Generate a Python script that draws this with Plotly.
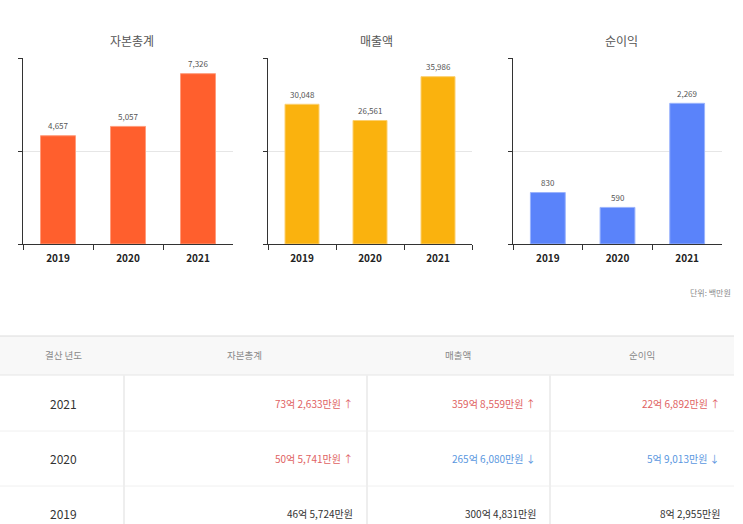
import plotly.graph_objects as go

W, H = 743, 524

# ---- data ----
years = ["2019", "2020", "2021"]
capital = [4657, 5057, 7326]
sales = [30048, 26561, 35986]
profit = [830, 590, 2269]
titles = ["자본총계", "매출액", "순이익"]
unit_label = "단위: 백만원"

table_header = ["결산 년도", "자본총계", "매출액", "순이익"]
table_years = ["2021", "2020", "2019"]
capital_txt = ["73억 2,633만원", "50억 5,741만원", "46억 5,724만원"]
sales_txt = ["359억 8,559만원", "265억 6,080만원", "300억 4,831만원"]
profit_txt = ["22억 6,892만원", "5억 9,013만원", "8억 2,955만원"]
capital_trend = ["up", "up", ""]
sales_trend = ["up", "down", ""]
profit_trend = ["up", "down", ""]

FONT = "Noto Sans CJK KR"
colors = ["#FF5F2D", "#FAB20E", "#5A83FA"]
edge = ["#FF9C7C", "#FCD070", "#9AB3FC"]
yranges = [8000, 40000, 3000]
xdom_px = [(23, 233), (268, 472), (513, 722)]
title_x_px = [132, 377, 621]


def px(x):
    return x / W


def py(y):
    return 1 - y / H


fig = go.Figure()
series = [capital, sales, profit]
annotations = []
shapes = []

for i, vals in enumerate(series):
    xa = "x" if i == 0 else f"x{i+1}"
    ya = "y" if i == 0 else f"y{i+1}"
    fig.add_trace(go.Bar(
        x=years, y=vals, xaxis=xa, yaxis=ya, width=0.5,
        marker=dict(color=colors[i], line=dict(color=edge[i], width=1)),
        hoverinfo="skip", showlegend=False,
    ))
    for j, v in enumerate(vals):
        annotations.append(dict(
            x=j, y=v, xref=xa, yref=ya, text=f"{v:,}", showarrow=False,
            yanchor="middle", yshift=10,
            font=dict(family=FONT, size=8, color="#555"),
        ))
    annotations.append(dict(
        x=px(title_x_px[i]), y=py(40), xref="paper", yref="paper",
        text=titles[i], showarrow=False, xanchor="center", yanchor="middle",
        font=dict(family=FONT, size=12, color="#555"),
    ))
    axkey = "xaxis" if i == 0 else f"xaxis{i+1}"
    aykey = "yaxis" if i == 0 else f"yaxis{i+1}"
    x0, x1 = xdom_px[i]
    fig.layout[axkey] = dict(
        domain=[px(x0), px(x1)], anchor=ya, type="category",
        range=[-0.5, 2.5], tickson="boundaries", ticks="outside",
        ticklen=5, tickcolor="#333", showline=True, linecolor="#333",
        linewidth=1, showgrid=False, fixedrange=True,
        ticklabelstandoff=5,
        tickfont=dict(family=FONT, size=10, color="#222", weight=600),
    )
    fig.layout[aykey] = dict(
        domain=[py(244), py(58)], anchor=xa, range=[0, yranges[i]],
        tickvals=[0, yranges[i] / 2, yranges[i]], showticklabels=False,
        ticks="outside", ticklen=4, tickcolor="#333", showline=True,
        linecolor="#333", linewidth=1, showgrid=True, gridcolor="#e6e6e6",
        zeroline=False, fixedrange=True,
    )

annotations.append(dict(
    x=px(733), y=py(292), xref="paper", yref="paper", text=unit_label,
    showarrow=False, xanchor="right", yanchor="middle",
    font=dict(family=FONT, size=8, color="#888"),
))

# ---- table ----
TL, TR = 0, 734
shapes.append(dict(type="rect", xref="paper", yref="paper",
                   x0=px(TL), x1=px(TR), y0=py(375), y1=py(336),
                   fillcolor="#f8f8f8", line=dict(width=0), layer="below"))
for yy, c in [(336, "#dcdcdc"), (375, "#e6e6e6"), (431, "#f0f0f0"), (486, "#f0f0f0")]:
    shapes.append(dict(type="line", xref="paper", yref="paper",
                       x0=px(TL), x1=px(TR), y0=py(yy), y1=py(yy),
                       line=dict(color=c, width=1)))
for xx in [124, 367, 550]:
    shapes.append(dict(type="line", xref="paper", yref="paper",
                       x0=px(xx), x1=px(xx), y0=py(375), y1=py(524),
                       line=dict(color="#eeeeee", width=2)))

header_x = [63, 245, 458, 642]
for t, hx in zip(table_header, header_x):
    annotations.append(dict(
        x=px(hx), y=py(355), xref="paper", yref="paper", text=t,
        showarrow=False, xanchor="center", yanchor="middle",
        font=dict(family=FONT, size=9.5, color="#888"),
    ))

row_y = [403, 458, 513]
trend_color = {"up": "#E06262", "down": "#5A97E0", "": "#333"}
arrow = {"up": " ↑", "down": " ↓", "": ""}
col_right = [355, 538, 722]
for r, yr in enumerate(table_years):
    annotations.append(dict(
        x=px(63), y=py(row_y[r]), xref="paper", yref="paper", text=yr,
        showarrow=False, xanchor="center", yanchor="middle",
        font=dict(family=FONT, size=12, color="#333"),
    ))
    for c, (txts, trs) in enumerate([(capital_txt, capital_trend),
                                      (sales_txt, sales_trend),
                                      (profit_txt, profit_trend)]):
        tr = trs[r]
        annotations.append(dict(
            x=px(col_right[c]), y=py(row_y[r]), xref="paper", yref="paper",
            text=txts[r] + arrow[tr], showarrow=False, xanchor="right",
            yanchor="middle",
            font=dict(family=FONT, size=10, color=trend_color[tr]),
        ))

fig.update_layout(
    width=W, height=H, autosize=False,
    margin=dict(l=0, r=0, t=0, b=0),
    paper_bgcolor="white", plot_bgcolor="white",
    annotations=annotations, shapes=shapes,
    font=dict(family=FONT),
    bargap=0.5,
)

fig.write_html("out.html", config={"displayModeBar": False},
               post_script="document.body.style.margin='0';document.body.style.padding='0';")
